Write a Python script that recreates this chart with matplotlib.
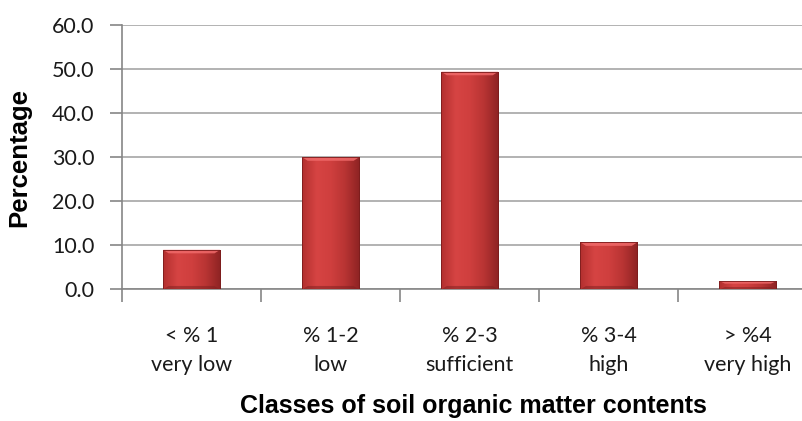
import matplotlib.pyplot as plt
import numpy as np
from matplotlib.colors import LinearSegmentedColormap

# --- Data ---
classes = ["< % 1\nvery low", "% 1-2\nlow", "% 2-3\nsufficient", "% 3-4\nhigh", "> %4\nvery high"]
percentages = [9.0, 30.0, 49.4, 10.7, 1.9]

yticks = [0, 10, 20, 30, 40, 50, 60]

fig = plt.figure(figsize=(8.03, 4.21), dpi=100)
ax = fig.add_axes([0.152, 0.3124, 0.866, 0.6282])

x = np.arange(len(classes))
bar_w = 0.41
bars = ax.bar(x, percentages, width=bar_w, color="#c33b3b",
              edgecolor="#7a1c1c", linewidth=0.6, zorder=3)

# shading: left-to-right gradient clipped to each bar, lighter bevel on top
cmap = LinearSegmentedColormap.from_list(
    "redbar", ["#b3302f", "#d64443", "#cf3f3e", "#b83433", "#8e2323"])
grad = np.linspace(0, 1, 64).reshape(1, -1)
for b, v in zip(bars, percentages):
    x0 = b.get_x()
    w = b.get_width()
    im = ax.imshow(grad, cmap=cmap, extent=[x0, x0 + w, 0, v],
                   aspect="auto", zorder=3.5)
    im.set_clip_path(b)
    bev = min(0.8, v * 0.3)
    ax.fill([x0, x0 + w, x0 + w - 0.04, x0 + 0.04],
            [v, v, v - bev, v - bev], color="#f06a6a", alpha=0.85,
            zorder=4, lw=0)
    ax.fill([x0, x0 + w, x0 + w - 0.04, x0 + 0.04],
            [0, 0, bev, bev], color="#7e2020", alpha=0.5, zorder=4, lw=0)
    ax.add_patch(plt.Rectangle((x0, 0), w, v, fill=False,
                               edgecolor="#7a1c1c", lw=0.6, zorder=5))

ax.set_xlim(-0.5, len(classes) - 0.5)
ax.set_ylim(0, 60)
ax.set_yticks(yticks)
ax.set_yticklabels([f"{t:.1f}" for t in yticks],
                   fontsize=15.5, family="Lato", color="#1a1a1a")
ax.yaxis.grid(True, color="#a6a6a6", linewidth=1.2, zorder=0)
ax.set_axisbelow(True)

ax.set_xticks(np.arange(len(classes) + 1) - 0.5, minor=False)
ax.set_xticklabels([])
ax.set_xticks(x, minor=True)
ax.set_xticklabels(classes, minor=True, fontsize=15.5,
                   family="Lato", color="#1a1a1a", linespacing=1.6)
ax.tick_params(axis="x", which="minor", length=0, pad=26)
ax.tick_params(axis="x", which="major", length=9, color="#868686", width=1.2)
ax.tick_params(axis="y", length=9, color="#868686", width=1.2, pad=11)

for s in ["top", "right"]:
    ax.spines[s].set_visible(False)
for s in ["left", "bottom"]:
    ax.spines[s].set_color("#868686")
    ax.spines[s].set_linewidth(1.2)

fig.text(0.024, 0.627, "Percentage", rotation=90, ha="center", va="center",
         fontsize=18.5, fontweight="bold", family="Liberation Sans")
fig.text(0.59, 0.035, "Classes of soil organic matter contents",
         ha="center", va="center", fontsize=18, fontweight="bold",
         family="Liberation Sans")

fig.savefig("out.png", dpi=100, facecolor="white")
